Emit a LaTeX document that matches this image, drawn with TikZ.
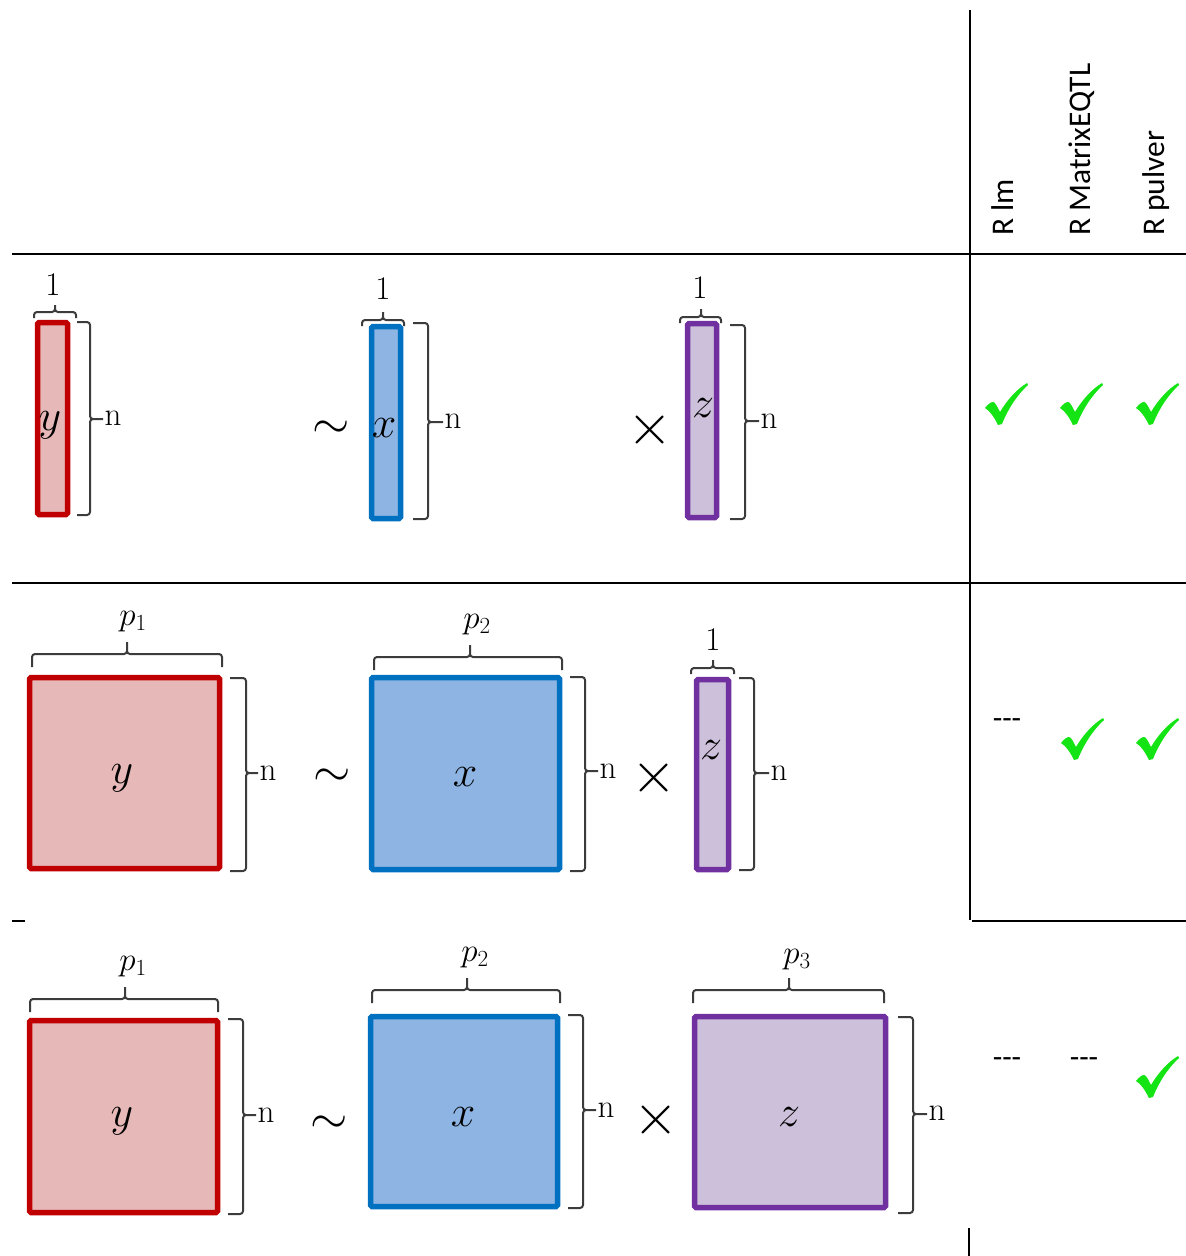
\documentclass[tikz,border=0pt]{standalone}
\usepackage{fix-cm}
\usepackage{fontspec}
\newfontfamily\headfont{Carlito}
\usetikzlibrary{calc}

\definecolor{yline}{RGB}{192,0,0}
\definecolor{yfill}{RGB}{230,184,183}
\definecolor{xline}{RGB}{0,112,192}
\definecolor{xfill}{RGB}{141,180,226}
\definecolor{zline}{RGB}{112,48,160}
\definecolor{zfill}{RGB}{204,192,218}
\definecolor{braceg}{RGB}{60,60,60}
\definecolor{tickgreen}{RGB}{20,228,20}

% horizontal brace: left x, right x, line y, end drop, tip x, tip rise
\newcommand{\hbr}[6]{\draw[brc] (#1,#3+#4) -- (#1,#3) -- (#5,#3) -- (#5,#3-#6) (#5,#3-#6) -- (#5,#3) -- (#2,#3) -- (#2,#3+#4);}
% vertical brace: hook x, line x, top y, bottom y, middle y, tick end x
\newcommand{\vbr}[6]{\draw[brc] (#1,#3) -- (#2,#3) -- (#2,#5) -- (#6,#5) (#6,#5) -- (#2,#5) -- (#2,#4) -- (#1,#4);}

\tikzset{
  mat/.style={draw, line width=5.5pt, rounded corners=1.5pt, inner sep=0pt},
  ymat/.style={mat, draw=yline, fill=yfill},
  xmat/.style={mat, draw=xline, fill=xfill},
  zmat/.style={mat, draw=zline, fill=zfill},
  brc/.style={draw=braceg, line width=2pt, rounded corners=3pt},
  dimlbl/.style={font=\fontsize{33}{36}\selectfont, inner sep=0pt},
  sym/.style={font=\fontsize{44}{48}\selectfont, inner sep=0pt},
  tilde/.style={font=\fontsize{48}{52}\selectfont, inner sep=0pt},
  times/.style={font=\fontsize{58}{62}\selectfont, inner sep=0pt},
  head/.style={font=\headfont\fontsize{31.5}{34}\selectfont, rotate=90, anchor=base west, inner sep=0pt},
  none/.style={font=\headfont\fontsize{31}{34}\selectfont, inner sep=0pt},
  tablerule/.style={line width=2.2pt, black},
  tickmark/.pic={
    \fill[tickgreen] (0,25) .. controls (3,21) and (6,19) .. (8,19)
      .. controls (10,19) and (12,23) .. (15,29)
      .. controls (22,17) and (32,6) .. (42,0) -- (43,2)
      .. controls (32,12) and (23,26) .. (17,41) -- (13,42)
      .. controls (9,34) and (5,28) .. (0,25) -- cycle;
  },
}

\begin{document}
\begin{tikzpicture}[x=1pt,y=-1pt]
\useasboundingbox (0,0) rectangle (1186,1256);

% table rules
\draw[tablerule] (970,10) -- (970,920);
\draw[tablerule] (969,1228) -- (969,1256);
\draw[tablerule] (12,254) -- (1186,254);
\draw[tablerule] (12,583) -- (1186,583);
\draw[tablerule] (972,921) -- (1186,921);
\draw[tablerule] (12,921) -- (25,921);

% column headers
\node[head] (hlm) at (1013,236) {R lm};
\node[head] (hmeqtl) at (1090,236) {R MatrixEQTL};
\node[head] (hpulver) at (1164,236) {R pulver};

% ---------- row 1 ----------
\node[ymat, minimum width=30pt, minimum height=192pt] (y1) at (52.5,418.5) {};
\node[xmat, minimum width=29pt, minimum height=192pt] (x1) at (386,422.5) {};
\node[zmat, minimum width=29pt, minimum height=194pt] (z1) at (702,420.5) {};
\node[sym] (ly1) at (50,425) {$y$};
\node[sym] (lx1) at (384,428) {$x$};
\node[sym] (lz1) at (703,408) {$z$};
\node[tilde] (t1) at (331,430) {$\sim$};
\node[times] (m1) at (650,430) {$\times$};
\hbr{34}{76}{312}{6}{55}{7}
\hbr{362}{404}{320}{6}{383}{8}
\hbr{680}{721}{317}{6}{701}{8}
\node[dimlbl] (w1y) at (53,285) {1};
\node[dimlbl] (w1x) at (383,289) {1};
\node[dimlbl] (w1z) at (700,288) {1};
\vbr{77}{90}{322}{515}{419}{103}
\vbr{413}{428}{323}{519}{422}{443}
\vbr{730}{745}{325}{519}{421}{759}
\node[dimlbl] (n1y) at (113,418) {n};
\node[dimlbl] (n1x) at (453,421) {n};
\node[dimlbl] (n1z) at (769,421) {n};
\pic at (985,383) {tickmark};
\pic at (1060,383) {tickmark};
\pic at (1136,383) {tickmark};

% ---------- row 2 ----------
\node[ymat, minimum width=190pt, minimum height=191pt] (y2) at (124.5,773) {};
\node[xmat, minimum width=188pt, minimum height=192pt] (x2) at (465.5,773.5) {};
\node[zmat, minimum width=32pt, minimum height=190pt] (z2) at (712.5,774.5) {};
\node[sym] (ly2) at (122,778) {$y$};
\node[sym] (lx2) at (465,777) {$x$};
\node[sym] (lz2) at (711,750) {$z$};
\node[tilde] (t2) at (332,778) {$\sim$};
\node[times] (m2) at (654,778) {$\times$};
\hbr{32}{222}{654}{13}{127}{12}
\hbr{374}{562}{657}{13}{470}{12}
\hbr{691}{734}{668}{6}{713}{8}
\node[dimlbl] (w2y) at (133,622) {$p_1$};
\node[dimlbl] (w2x) at (477,625) {$p_2$};
\node[dimlbl] (w2z) at (713,640) {1};
\vbr{230}{246}{678}{871}{773}{258}
\vbr{570}{585}{677}{871}{771}{598}
\vbr{739}{754}{678}{870}{773}{769}
\node[dimlbl] (n2y) at (268,773) {n};
\node[dimlbl] (n2x) at (608,771) {n};
\node[dimlbl] (n2z) at (779,773) {n};
\node[none] (d2lm) at (1007,724) {{-}{-}{-}};
\pic at (1061,718) {tickmark};
\pic at (1136,718) {tickmark};

% ---------- row 3 ----------
\node[ymat, minimum width=188pt, minimum height=192pt] (y3) at (123.5,1116.5) {};
\node[xmat, minimum width=187pt, minimum height=190pt] (x3) at (464,1111.5) {};
\node[zmat, minimum width=191pt, minimum height=191pt] (z3) at (790,1112) {};
\node[sym] (ly3) at (122,1121) {$y$};
\node[sym] (lx3) at (463,1117) {$x$};
\node[sym] (lz3) at (789,1117) {$z$};
\node[tilde] (t3) at (329,1125) {$\sim$};
\node[times] (m3) at (656,1120) {$\times$};
\hbr{30}{218}{999}{13}{125}{12}
\hbr{372}{560}{990}{13}{467}{12}
\hbr{693}{884}{990}{13}{789}{12}
\node[dimlbl] (w3y) at (133,967) {$p_1$};
\node[dimlbl] (w3x) at (475,958) {$p_2$};
\node[dimlbl] (w3z) at (797,960) {$p_3$};
\vbr{228}{243}{1019}{1214}{1115}{256}
\vbr{568}{583}{1015}{1208}{1110}{596}
\vbr{898}{913}{1017}{1213}{1114}{927}
\node[dimlbl] (n3y) at (266,1115) {n};
\node[dimlbl] (n3x) at (606,1110) {n};
\node[dimlbl] (n3z) at (937,1113) {n};
\node[none] (d3lm) at (1007,1063) {{-}{-}{-}};
\node[none] (d3meqtl) at (1084,1063) {{-}{-}{-}};
\pic at (1136,1056) {tickmark};

\end{tikzpicture}
\end{document}
